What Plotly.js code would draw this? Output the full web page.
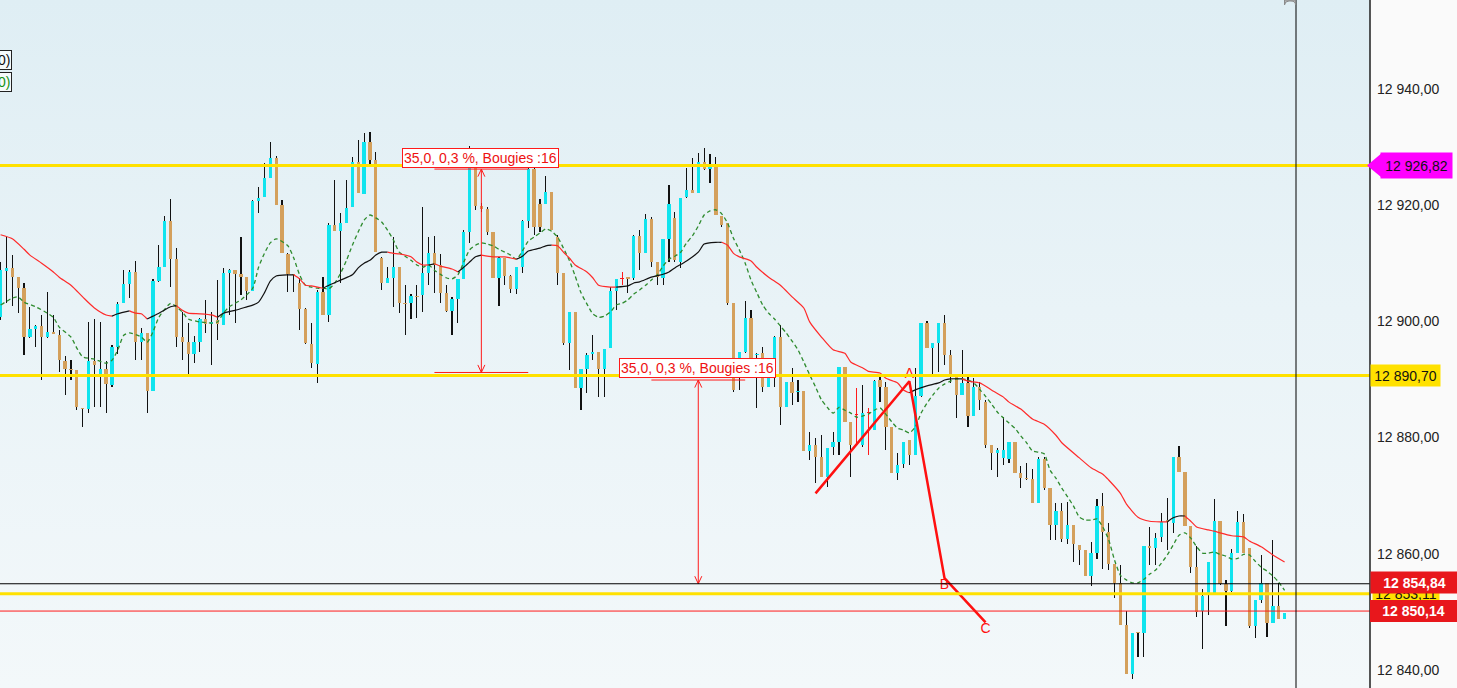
<!DOCTYPE html>
<html><head><meta charset="utf-8">
<script src="https://cdn.plot.ly/plotly-3.0.1.min.js"></script>
<style>
html,body{margin:0;padding:0;background:#fafafa;}
#chart{width:1457px;height:688px;background:linear-gradient(to bottom,#dfeef4 0%,#e9f3f7 45%,#f3f8fa 100%) 0 0/1370px 688px no-repeat,#fafafa;}
</style></head><body><div id="chart"></div>
<script>
// ---- candles (index 0..219) ----
const openP = [12900.7,12908.7,12909.2,12907.6,12905.7,12897.3,12898.7,12899.2,12897.3,12898.2,
12897.7,12893.1,12891.8,12891.6,12885.1,12884.9,12893.1,12890.8,12891.8,12889.0,
12895.6,12903.1,12906.4,12908.5,12896.4,12898.0,12888.0,12906.9,12909.3,12917.3,
12910.7,12897.3,12896.4,12894.4,12896.4,12900.4,12899.5,12900.2,12899.4,12908.3,
12908.8,12908.2,12907.6,12905.2,12920.7,12921.4,12924.7,12928.1,12920.0,12911.6,
12908.2,12906.6,12902.1,12896.1,12892.7,12905.1,12901.1,12916.6,12915.5,12916.9,
12919.7,12927.4,12921.9,12930.9,12927.8,12910.9,12906.6,12907.5,12909.3,12903.1,
12903.1,12904.4,12904.5,12908.3,12911.7,12909.7,12904.9,12901.8,12903.8,12907.3,
12915.4,12926.4,12919.9,12919.3,12915.4,12907.5,12910.9,12907.8,12905.6,12909.3,
12917.3,12926.2,12920.2,12920.2,12922.3,12914.5,12908.3,12896.3,12901.6,12888.5,
12891.8,12894.4,12894.7,12891.8,12895.4,12905.2,12907.3,12907.6,12907.5,12914.7,
12911.7,12917.6,12910.2,12907.5,12914.2,12917.8,12910.2,12921.4,12922.6,12922.1,
12927.4,12926.2,12927.1,12918.1,12916.9,12903.1,12893.0,12894.7,12900.6,12894.2,
12894.5,12888.7,12893.0,12897.3,12885.2,12889.6,12887.8,12888.0,12877.7,12878.7,
12876.6,12873.2,12878.4,12879.2,12892.1,12882.7,12883.9,12878.7,12884.2,12881.3,
12889.9,12888.7,12881.8,12873.9,12875.4,12879.6,12877.0,12887.1,12899.7,12895.4,
12896.3,12899.7,12894.2,12890.8,12887.3,12889.4,12883.7,12888.7,12886.1,12878.7,
12877.3,12876.5,12876.3,12879.2,12873.9,12873.0,12872.9,12868.7,12876.3,12871.3,
12864.9,12867.3,12862.5,12864.9,12861.5,12860.6,12856.2,12860.1,12868.2,12863.7,
12858.2,12855.0,12847.7,12839.3,12846.5,12846.4,12861.3,12861.0,12862.9,12865.8,
12865.3,12876.6,12874.1,12864.8,12857.7,12850.1,12853.2,12853.2,12865.6,12854.8,
12853.6,12860.1,12865.5,12861.0,12847.6,12852.0,12855.0,12848.1,12851.0,12848.8];
const highP = [12910.2,12914.5,12911.4,12907.6,12906.6,12902.5,12899.4,12901.1,12905.1,12901.1,
12898.5,12894.0,12893.4,12891.6,12885.1,12899.9,12900.4,12899.9,12893.1,12895.9,
12903.3,12908.8,12908.8,12910.3,12898.9,12898.0,12907.3,12913.1,12918.1,12921.1,
12912.6,12901.6,12899.7,12897.5,12900.6,12903.7,12901.6,12907.1,12909.2,12909.0,
12908.8,12914.5,12907.6,12920.9,12923.1,12927.2,12930.9,12928.5,12920.9,12911.7,
12908.2,12907.5,12902.3,12899.7,12905.4,12907.6,12916.9,12924.3,12918.7,12924.3,
12928.3,12931.2,12932.4,12932.6,12929.1,12911.1,12909.3,12914.5,12909.3,12906.2,
12904.7,12906.2,12919.7,12914.5,12914.7,12911.6,12906.2,12904.2,12907.3,12915.7,
12930.2,12926.4,12920.4,12919.7,12915.4,12911.1,12910.9,12908.0,12909.3,12917.4,
12926.4,12926.4,12921.1,12925.0,12922.3,12914.9,12908.3,12901.6,12901.6,12891.8,
12894.5,12897.7,12894.7,12895.2,12905.9,12907.3,12908.5,12907.6,12914.9,12915.7,
12918.5,12917.9,12910.2,12914.2,12923.5,12918.8,12921.2,12926.4,12928.1,12929.0,
12929.8,12928.8,12928.3,12918.1,12916.9,12903.1,12894.7,12903.5,12901.9,12894.5,
12895.6,12893.0,12897.5,12899.4,12889.6,12892.0,12889.9,12888.0,12881.0,12879.9,
12880.4,12878.2,12881.0,12892.1,12892.1,12882.7,12888.5,12889.0,12885.1,12889.9,
12890.4,12889.6,12881.8,12877.3,12879.2,12879.6,12892.0,12899.7,12900.1,12896.3,
12899.7,12901.1,12895.1,12890.8,12895.1,12890.4,12890.2,12889.6,12886.5,12878.7,
12878.2,12883.5,12879.2,12879.2,12875.1,12875.6,12874.6,12876.6,12876.6,12871.3,
12868.7,12868.7,12868.9,12864.9,12861.5,12860.6,12862.0,12869.4,12870.4,12865.3,
12858.2,12858.0,12850.1,12846.4,12846.5,12861.3,12864.6,12863.6,12867.0,12869.6,
12876.6,12878.5,12874.1,12864.8,12861.3,12853.9,12858.6,12869.4,12865.6,12855.5,
12860.8,12867.3,12866.8,12861.0,12852.0,12859.8,12855.0,12862.3,12855.0,12849.8];
const lowP = [12900.2,12903.1,12902.6,12901.4,12894.2,12897.1,12895.6,12889.9,12897.1,12897.8,
12891.3,12887.3,12889.9,12884.7,12881.8,12884.2,12885.2,12885.2,12884.2,12888.7,
12894.4,12903.1,12904.0,12893.4,12893.4,12884.2,12888.0,12906.8,12909.3,12905.9,
12895.6,12893.3,12890.8,12892.8,12894.7,12898.0,12892.5,12896.8,12899.4,12901.1,
12899.7,12904.5,12903.7,12905.2,12918.7,12921.4,12924.7,12920.0,12911.7,12905.1,
12905.1,12898.5,12896.1,12892.0,12889.4,12901.1,12899.9,12915.5,12906.6,12916.9,
12919.7,12922.1,12921.9,12926.9,12911.9,12905.4,12906.6,12902.5,12901.4,12897.7,
12900.4,12900.6,12901.6,12906.2,12904.9,12903.1,12901.6,12897.7,12899.7,12907.3,
12913.5,12919.2,12918.8,12914.9,12907.5,12902.6,12906.2,12904.9,12904.7,12908.3,
12916.1,12914.9,12915.4,12920.2,12915.7,12906.2,12895.9,12891.6,12888.5,12884.7,
12887.7,12893.3,12887.0,12887.0,12895.4,12901.9,12906.2,12904.9,12907.1,12908.8,
12911.7,12909.3,12906.2,12906.2,12910.2,12910.2,12909.2,12921.2,12922.1,12922.1,
12926.0,12923.8,12918.3,12916.2,12902.8,12887.8,12888.2,12894.5,12891.1,12885.1,
12887.8,12888.7,12888.7,12882.2,12885.2,12885.6,12886.1,12877.7,12876.1,12872.2,
12873.2,12871.5,12877.0,12877.0,12882.7,12873.2,12878.7,12878.4,12877.0,12881.3,
12886.1,12877.9,12873.9,12872.7,12874.8,12875.3,12877.0,12887.0,12895.4,12890.4,
12891.3,12892.5,12889.4,12883.4,12887.3,12881.8,12883.7,12884.7,12878.2,12874.4,
12873.2,12875.3,12875.6,12873.9,12871.3,12872.7,12868.7,12868.7,12871.0,12862.3,
12862.3,12862.0,12861.6,12858.6,12858.0,12856.2,12854.4,12859.1,12857.4,12857.2,
12852.4,12847.7,12839.3,12838.4,12842.2,12842.2,12858.0,12858.0,12862.0,12860.6,
12863.6,12874.1,12864.8,12856.7,12849.1,12843.6,12849.5,12853.2,12854.6,12847.6,
12853.4,12860.1,12860.1,12847.2,12845.5,12851.5,12845.7,12848.1,12848.8,12848.8];
const closeP = [12908.8,12909.2,12907.6,12905.7,12897.3,12898.7,12899.2,12897.3,12898.2,12897.8,
12893.3,12891.8,12891.6,12885.2,12884.9,12893.1,12892.5,12891.8,12889.2,12895.6,
12903.0,12906.4,12908.5,12896.4,12898.0,12888.0,12906.9,12909.3,12917.3,12910.7,
12897.3,12896.4,12894.4,12896.4,12900.4,12899.5,12899.9,12899.5,12908.3,12908.8,
12908.2,12907.6,12905.2,12920.7,12921.2,12924.7,12928.1,12920.0,12911.7,12908.2,
12908.0,12902.1,12896.3,12892.8,12905.1,12901.1,12916.6,12915.5,12916.9,12919.5,
12927.4,12922.1,12930.9,12927.8,12911.9,12906.6,12907.5,12909.3,12903.1,12903.0,
12904.4,12904.2,12908.3,12911.7,12909.7,12904.9,12901.8,12903.8,12907.3,12915.4,
12926.4,12919.9,12919.3,12915.4,12907.5,12910.9,12907.8,12905.6,12909.3,12917.3,
12926.2,12916.2,12916.2,12922.3,12915.7,12908.3,12896.3,12901.6,12888.5,12891.8,
12894.2,12894.7,12891.8,12895.2,12905.2,12907.3,12907.3,12907.3,12914.7,12911.7,
12917.6,12910.2,12907.6,12914.2,12920.2,12910.5,12921.2,12922.6,12922.1,12927.4,
12926.2,12927.1,12918.3,12916.6,12903.1,12888.2,12894.7,12900.6,12891.1,12894.4,
12888.7,12893.0,12897.3,12885.2,12889.6,12887.7,12888.0,12877.7,12878.7,12876.6,
12873.2,12878.2,12879.2,12892.1,12882.7,12878.7,12883.9,12884.2,12884.2,12889.7,
12888.7,12881.8,12873.9,12875.3,12879.2,12877.0,12887.1,12899.7,12895.4,12896.3,
12899.7,12894.2,12890.8,12887.3,12889.4,12883.7,12888.7,12886.5,12878.7,12877.3,
12877.9,12877.9,12879.2,12873.9,12873.0,12872.9,12868.7,12876.3,12871.3,12864.9,
12867.3,12862.5,12864.9,12861.6,12860.6,12856.2,12860.1,12868.2,12863.7,12858.2,
12855.0,12847.7,12839.3,12846.4,12846.4,12861.3,12861.0,12862.7,12865.5,12865.5,
12876.6,12874.1,12864.8,12857.7,12850.0,12852.7,12858.6,12865.6,12854.8,12853.6,
12860.1,12865.5,12860.1,12847.6,12852.0,12855.0,12848.1,12851.0,12848.8,12849.8];
const redDoji = [106,146,148];

// ---- moving averages (read at candle indexes) ----
const maLongIdx = [0,2,4,5,7,9,10,12,14,16,18,19,20,22,23,24,25,26,27,29,30,31,32,34,36,37,38,40,42,43,44,45,46,47,49,50,51,52,53,55,56,58,60,61,62,63,64,65,66,67,68,70,71,72,73,74,75,77,78,79,80,81,82,84,86,87,88,89,90,92,93,94,95,96,97,98,100,101,102,104,105,107,108,109,111,113,114,115,117,119,120,122,123,124,125,126,128,129,131,133,135,137,138,140,142,144,145,147,148,150,151,153,154,155,156,158,160,161,162,164,165,167,169,171,172,174,176,178,180,181,184,186,188,189,191,192,194,196,198,199,200,201,202,203,204,206,207,208,210,212,213,215,217,219];
const maLongVal = [12914.9,12914.2,12912.4,12911.4,12910.0,12908.5,12907.6,12906.2,12904.2,12902.3,12901.1,12900.9,12901.3,12901.8,12901.4,12901.3,12900.4,12900.9,12901.4,12902.5,12902.7,12901.9,12901.4,12901.3,12901.1,12900.7,12901.4,12901.9,12902.5,12902.8,12903.3,12904.9,12906.9,12907.8,12908.0,12908.0,12907.3,12906.2,12906.1,12905.7,12906.2,12907.1,12908.0,12909.2,12910.0,12910.5,12911.4,12911.9,12911.9,12911.7,12911.6,12911.1,12910.2,12909.7,12909.7,12909.9,12909.5,12909.0,12908.5,12909.3,12910.2,12911.1,12911.4,12911.1,12911.1,12910.9,12910.7,12911.2,12912.1,12912.6,12913.0,12913.1,12913.0,12911.9,12910.9,12909.7,12908.5,12907.5,12906.2,12905.9,12905.9,12906.1,12906.6,12906.8,12907.6,12908.1,12908.5,12909.2,12910.4,12911.9,12913.3,12913.6,12913.6,12913.1,12911.7,12911.1,12910.4,12909.3,12907.6,12906.2,12904.2,12902.3,12899.9,12897.3,12895.1,12894.5,12893.0,12892.0,12891.4,12891.1,12890.2,12889.4,12888.2,12887.7,12888.2,12888.9,12889.4,12889.9,12890.1,12890.1,12889.7,12889.4,12888.2,12887.0,12886.1,12884.9,12883.2,12882.3,12880.4,12879.1,12876.5,12874.8,12873.7,12872.7,12870.4,12868.6,12866.3,12865.6,12865.5,12865.5,12866.2,12866.5,12866.5,12865.6,12864.6,12864.1,12863.9,12863.6,12863.1,12862.9,12862.2,12861.2,12859.8,12858.6];
const maShortIdx = [0,2,3,4,6,8,9,10,12,13,14,16,18,19,20,21,22,24,25,26,27,29,30,31,32,34,36,37,38,39,41,43,44,45,46,47,49,50,51,52,53,54,55,56,57,58,59,60,61,62,63,64,65,66,67,68,69,70,71,72,73,74,75,76,77,78,79,80,81,82,83,84,85,86,87,88,89,90,91,92,93,94,95,96,97,98,99,100,101,102,103,104,105,106,107,108,109,110,111,112,113,114,115,116,117,118,119,120,121,122,123,124,125,126,127,128,129,130,131,132,133,134,135,136,137,138,139,140,141,142,143,144,145,146,147,148,149,150,151,152,153,154,155,156,157,158,159,160,161,162,163,164,165,166,167,168,169,170,171,172,173,174,175,176,177,178,179,180,181,182,183,184,185,186,187,188,189,190,191,192,193,194,195,196,197,198,199,200,201,202,203,204,205,206,207,208,209,210,211,212,213,214,215,216,217,218,219];
const maShortVal = [12902.8,12904.0,12904.2,12903.3,12902.5,12901.4,12900.7,12899.0,12897.3,12895.4,12893.9,12893.5,12892.8,12893.3,12895.1,12897.6,12898.0,12897.3,12896.4,12898.2,12900.7,12903.1,12902.5,12901.6,12900.4,12899.9,12899.7,12899.9,12901.4,12902.5,12903.7,12905.7,12909.3,12911.7,12913.5,12914.2,12913.0,12910.9,12908.0,12906.2,12905.9,12905.7,12905.7,12905.6,12906.6,12908.3,12910.5,12913.1,12915.4,12917.4,12918.3,12917.8,12917.1,12915.7,12914.0,12911.9,12911.2,12910.5,12909.7,12909.3,12909.7,12908.8,12908.1,12907.5,12907.3,12908.0,12910.2,12912.3,12913.1,12913.5,12913.3,12913.0,12912.4,12911.9,12911.4,12910.7,12912.1,12913.8,12914.5,12915.2,12915.9,12915.5,12914.5,12912.6,12910.5,12907.8,12904.9,12903.0,12901.3,12900.7,12900.9,12901.6,12902.8,12903.1,12903.7,12904.7,12905.4,12906.2,12907.1,12908.0,12909.5,12910.7,12911.2,12911.9,12913.5,12914.7,12916.4,12918.3,12919.0,12919.2,12918.5,12916.9,12914.3,12912.3,12910.0,12907.1,12904.9,12902.8,12901.4,12900.4,12899.2,12898.0,12896.6,12895.1,12893.0,12890.8,12888.7,12886.5,12885.2,12884.2,12885.2,12884.7,12884.2,12883.5,12883.7,12884.0,12884.7,12885.1,12884.0,12882.7,12881.6,12881.3,12880.8,12881.8,12884.2,12885.9,12887.3,12888.5,12889.2,12889.7,12890.1,12890.1,12889.9,12889.4,12888.3,12887.1,12885.8,12884.4,12883.4,12882.5,12881.6,12880.3,12879.1,12877.7,12877.5,12877.2,12874.4,12873.0,12871.3,12869.8,12868.2,12866.3,12865.8,12865.8,12866.0,12864.6,12862.4,12858.9,12856.3,12855.5,12855.0,12855.0,12855.6,12856.5,12857.2,12858.4,12859.8,12861.5,12863.2,12863.6,12862.7,12861.2,12860.1,12860.1,12860.3,12859.9,12859.6,12859.1,12859.2,12859.9,12859.8,12858.7,12857.7,12857.0,12856.2,12855.1,12853.7];

// ---- horizontal levels ----
const levelVals = [12926.82, 12890.70, 12854.84, 12853.11, 12850.14];
const levelColors = ['#ffe100', '#ffe100', '#000000', '#ffe100', '#ff1a1a'];
const levelWidths = [3, 3, 1, 3, 1];

// ---- measurement tools ----
const measureStart = [74, 111];
const measureEnd = [90, 127];
const measureHigh = [12926.2, 12889.9];
const measureLow = [12891.2, 12854.84];
const measureText = ['35,0, 0,3 %, Bougies :16', '35,0, 0,3 %, Bougies :16'];

// ---- ABC wave ----
const waveIdx = [139, 155, 161, 168];
const waveVal = [12870.4, 12889.7, 12855.8, 12848.2];
const waveLabel = ['', 'A', 'B', 'C'];

// ---- axis ticks ----
const tickVals = [12840, 12860, 12880, 12900, 12920, 12940];
const tickText = ['12 840,00', '12 860,00', '12 880,00', '12 900,00', '12 920,00', '12 940,00'];

// ---- price tags ----
const tagVals = [12926.82, 12890.70, 12853.11, 12854.84, 12850.14];
const tagText = ['12 926,82', '12 890,70', '12 853,11', '12 854,84', '12 850,14'];

const CYAN = '#10e4ee', TAN = '#d4a05c', RED = '#ff1a1a';
const FONT = 'Liberation Sans, Arial, sans-serif';
const PW = 1370;
const px = v => v / PW;

const N = openP.length;
const idx = Array.from({length: N}, (_, i) => i);
const isRed = i => redDoji.includes(i);
const bodyColor = idx.map(i => isRed(i) ? RED : (closeP[i] > openP[i] ? CYAN : TAN));
const wickColor = idx.map(i => isRed(i) ? RED : '#111111');

const traces = [];
traces.push({type: 'bar', x: idx, base: lowP, y: idx.map(i => highP[i] - lowP[i]), width: 0.19,
  marker: {color: wickColor, line: {width: 0}}, hoverinfo: 'skip', showlegend: false});
traces.push({type: 'bar', x: idx, base: idx.map(i => Math.min(openP[i], closeP[i])),
  y: idx.map(i => Math.max(Math.abs(closeP[i] - openP[i]), 0.22)), width: 0.56,
  marker: {color: bodyColor, line: {width: 0}}, hoverinfo: 'skip', showlegend: false});

traces.push({type: 'scatter', mode: 'lines', x: maShortIdx, y: maShortVal,
  line: {color: '#2e8b2e', width: 1.3, dash: '4px,3px', shape: 'spline', smoothing: 0.6},
  hoverinfo: 'skip', showlegend: false});

// long MA coloured by slope: black rising, red falling
(function () {
  let start = 0, dir = null;
  const segs = [];
  for (let k = 0; k < maLongIdx.length - 1; k++) {
    let d = maLongVal[k + 1] > maLongVal[k] ? 1 : (maLongVal[k + 1] < maLongVal[k] ? -1 : (dir || -1));
    if (dir === null) dir = d;
    if (d !== dir) { segs.push([start, k, dir]); start = k; dir = d; }
  }
  segs.push([start, maLongIdx.length - 1, dir]);
  segs.forEach(s => traces.push({type: 'scatter', mode: 'lines',
    x: maLongIdx.slice(s[0], s[1] + 1), y: maLongVal.slice(s[0], s[1] + 1),
    line: {color: s[2] > 0 ? '#111111' : '#ff2a2a', width: 1.2, shape: 'spline', smoothing: 0.6},
    hoverinfo: 'skip', showlegend: false}));
})();

traces.push({type: 'scatter', mode: 'lines+text', x: waveIdx, y: waveVal, text: waveLabel,
  textposition: ['top center', 'top center', 'bottom center', 'bottom center'],
  textfont: {family: FONT, size: 14, color: '#ff1010'},
  line: {color: '#ff1010', width: 2.5}, hoverinfo: 'skip', showlegend: false, cliponaxis: false});

const shapes = [];
// measurement tools
for (let m = 0; m < measureStart.length; m++) {
  const xc = (measureStart[m] + measureEnd[m]) / 2;
  const ln = {color: '#ff1a1a', width: 1};
  shapes.push({type: 'line', xref: 'x', yref: 'y', x0: measureStart[m], x1: measureEnd[m], y0: measureHigh[m], y1: measureHigh[m], line: ln});
  // bottom bracket hidden where it sits on a drawn price level
  if (!levelVals.some(v => Math.abs(v - measureLow[m]) < 0.5)) {
    shapes.push({type: 'line', xref: 'x', yref: 'y', x0: measureStart[m], x1: measureEnd[m], y0: measureLow[m], y1: measureLow[m], line: ln});
  }
  shapes.push({type: 'line', xref: 'x', yref: 'y', x0: xc, x1: xc, y0: measureLow[m], y1: measureHigh[m], line: ln});
  shapes.push({type: 'path', xref: 'x', yref: 'y', line: ln,
    path: `M ${xc - 0.6},${measureHigh[m] - 1.3} L ${xc},${measureHigh[m]} L ${xc + 0.6},${measureHigh[m] - 1.3}`});
  shapes.push({type: 'path', xref: 'x', yref: 'y', line: ln,
    path: `M ${xc - 0.6},${measureLow[m] + 1.3} L ${xc},${measureLow[m]} L ${xc + 0.6},${measureLow[m] + 1.3}`});
}
// levels
levelVals.forEach((v, k) => shapes.push({type: 'line', xref: 'paper', yref: 'y', x0: 0, x1: 1, y0: v, y1: v,
  line: {color: levelColors[k], width: levelWidths[k]}}));
// current-time vertical line & panel border
shapes.push({type: 'line', xref: 'paper', yref: 'paper', x0: px(1296), x1: px(1296), y0: 0, y1: 1, line: {color: '#000', width: 1}});
shapes.push({type: 'line', xref: 'paper', yref: 'paper', x0: 1, x1: 1, y0: 0, y1: 1, line: {color: '#2b2b2b', width: 1.6}});
// small tab at top
shapes.push({type: 'path', xref: 'paper', yref: 'paper', fillcolor: '#b4b4b4', line: {color: '#8a8a8a', width: 1},
  path: `M ${px(1284.5)},1 L ${px(1284.5)},${1 - 5 / 688} Q ${px(1285)},${1 - 1 / 688} ${px(1289)},${1 - 1 / 688} L ${px(1291)},${1 - 1 / 688} Q ${px(1295.5)},${1 - 1 / 688} ${px(1295.5)},${1 - 5 / 688} L ${px(1295.5)},1 Z`});
// magenta tag point
shapes.push({type: 'path', xref: 'paper', yref: 'y', fillcolor: '#ff00ff', line: {width: 0},
  path: `M ${px(1367)},${tagVals[0]} L ${px(1381)},${tagVals[0] + 2.0} L ${px(1381)},${tagVals[0] - 2.0} Z`});

const annotations = [];
for (let m = 0; m < measureStart.length; m++) {
  annotations.push({xref: 'x', yref: 'y', x: (measureStart[m] + measureEnd[m]) / 2 - 0.1, y: measureHigh[m],
    xanchor: 'center', yanchor: 'bottom', yshift: m === 0 ? 1 : 2, showarrow: false, text: measureText[m],
    font: {family: FONT, size: 14, color: '#ee1111'}, bgcolor: '#ffffff', bordercolor: '#ff1a1a', borderwidth: 1, borderpad: 1});
}
// price tags
annotations.push({xref: 'paper', yref: 'y', x: px(1380), y: tagVals[0], xanchor: 'left', yanchor: 'middle', showarrow: false,
  text: tagText[0], width: 69, height: 23, bgcolor: '#ff00ff', font: {family: FONT, size: 14, color: '#111'}});
annotations.push({xref: 'paper', yref: 'y', x: px(1370), y: tagVals[1], xanchor: 'left', yanchor: 'middle', showarrow: false,
  text: tagText[1], width: 67, height: 19, bgcolor: '#ffe100', font: {family: FONT, size: 14, color: '#111'}});
annotations.push({xref: 'paper', yref: 'y', x: px(1372), y: tagVals[2], xanchor: 'left', yanchor: 'middle', showarrow: false,
  text: tagText[2], width: 64, height: 15, bgcolor: '#ffe100', font: {family: FONT, size: 14, color: '#111'}});
annotations.push({xref: 'paper', yref: 'y', x: px(1370), y: tagVals[3], xanchor: 'left', yanchor: 'middle', yshift: 1, showarrow: false,
  text: '<b>' + tagText[3] + '</b>', width: 85, height: 19, bgcolor: '#e8171c', font: {family: FONT, size: 14, color: '#fff'}});
annotations.push({xref: 'paper', yref: 'y', x: px(1370), y: tagVals[4], xanchor: 'left', yanchor: 'middle', yshift: 0, showarrow: false,
  text: '<b>' + tagText[4] + '</b>', width: 85, height: 20, bgcolor: '#e8171c', bordercolor: '#b50d10', borderwidth: 0, font: {family: FONT, size: 14, color: '#fff'}});
// legend stubs top-left
annotations.push({xref: 'paper', yref: 'paper', x: px(12), y: 1 - 60 / 688, xanchor: 'right', yanchor: 'middle', showarrow: false,
  text: '0)', font: {family: FONT, size: 14, color: '#111'}, bgcolor: '#f6fafb', bordercolor: '#222', borderwidth: 1, borderpad: 1});
annotations.push({xref: 'paper', yref: 'paper', x: px(12), y: 1 - 82 / 688, xanchor: 'right', yanchor: 'middle', showarrow: false,
  text: '0)', font: {family: FONT, size: 14, color: '#149414'}, bgcolor: '#f6fafb', bordercolor: '#222', borderwidth: 1, borderpad: 1});

const layout = {
  width: 1457, height: 688,
  margin: {l: 0, r: 87, t: 0, b: 0, pad: 0},
  paper_bgcolor: 'rgba(0,0,0,0)', plot_bgcolor: 'rgba(0,0,0,0)',
  barmode: 'overlay', bargap: 0,
  showlegend: false,
  font: {family: FONT},
  xaxis: {range: [-0.1, PW / 5.863 - 0.1], visible: false, fixedrange: true},
  yaxis: {side: 'right', range: [12836.9, 12955.3], tickvals: tickVals, ticktext: tickText,
    showgrid: false, zeroline: false, showline: false, ticks: '', ticklabelstandoff: 6,
    tickfont: {family: FONT, size: 14, color: '#222'}, fixedrange: true},
  shapes: shapes, annotations: annotations
};
Plotly.newPlot('chart', traces, layout, {displayModeBar: false, staticPlot: true});
</script>
</body></html>
